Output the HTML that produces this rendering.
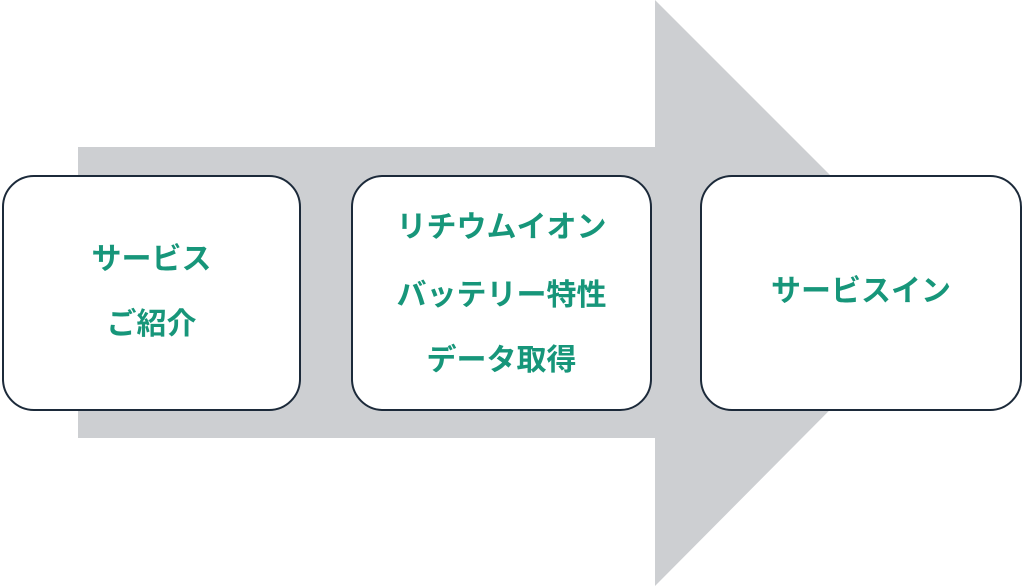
<!DOCTYPE html>
<html><head><meta charset="utf-8"><style>
html,body{margin:0;padding:0;width:1024px;height:586px;background:#fff;overflow:hidden;position:relative}
.box{position:absolute;box-sizing:border-box;border:2px solid #1c2a3a;border-radius:32px;background:#fff}
.t{position:absolute;left:0;right:0;text-align:center;font-family:"Liberation Sans","Noto Sans CJK JP",sans-serif;font-weight:bold;font-size:30px;color:#17967a;line-height:1;white-space:nowrap}
</style></head><body>
<svg width="1024" height="586" style="position:absolute;left:0;top:0">
<polygon points="78,147 655,147 655,0 947,292 655,586 655,438 78,438" fill="#cdcfd2"/>
</svg>
<div class="box" style="left:2px;top:175px;width:299px;height:236px">
<div class="t" style="top:68px">サービス</div>
<div class="t" style="top:133px">ご紹介</div>
</div>
<div class="box" style="left:351px;top:175px;width:301px;height:236px">
<div class="t" style="top:36px">リチウムイオン</div>
<div class="t" style="top:104px">バッテリー特性</div>
<div class="t" style="top:169px">データ取得</div>
</div>
<div class="box" style="left:700px;top:175px;width:322px;height:236px">
<div class="t" style="top:100px">サービスイン</div>
</div>
</body></html>
